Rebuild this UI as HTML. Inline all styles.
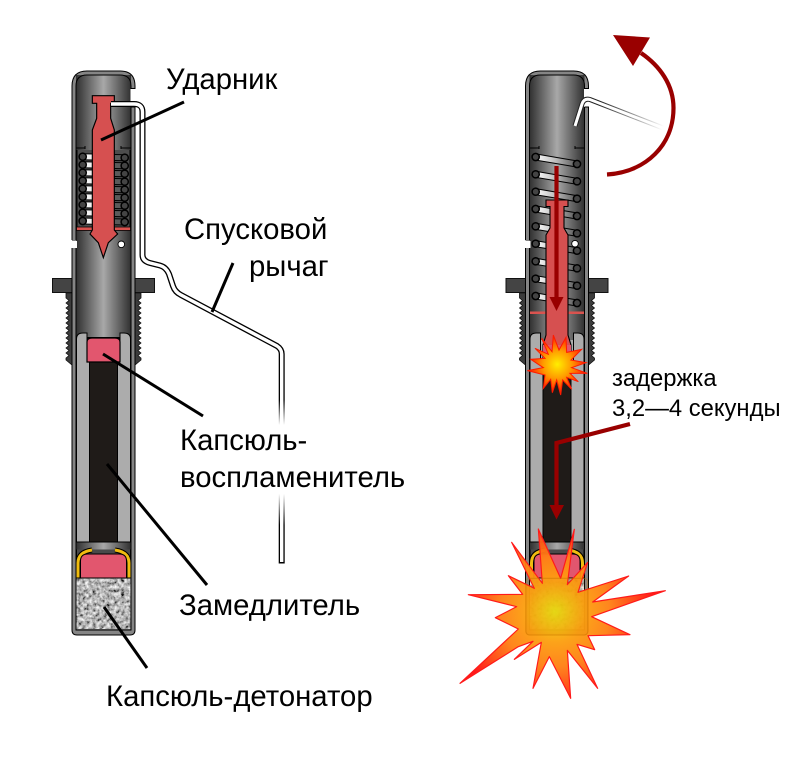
<!DOCTYPE html>
<html><head><meta charset="utf-8"><style>
html,body{margin:0;padding:0;background:#fff}
svg{display:block}
text{font-family:"Liberation Sans",sans-serif;fill:#000}
</style></head><body>
<svg width="800" height="769" viewBox="0 0 800 769" xmlns="http://www.w3.org/2000/svg">
<defs>
<linearGradient id="tg" gradientUnits="userSpaceOnUse" x1="76" x2="131" y1="0" y2="0">
<stop offset="0" stop-color="#303030"/><stop offset=".5" stop-color="#a8a8a8"/><stop offset="1" stop-color="#303030"/></linearGradient>
<linearGradient id="barL" gradientUnits="userSpaceOnUse" x1="82" x2="125" y1="0" y2="0">
<stop offset="0" stop-color="#fff"/><stop offset=".45" stop-color="#ddd"/><stop offset=".6" stop-color="#5a5a5a"/><stop offset="1" stop-color="#5a5a5a"/></linearGradient>
<linearGradient id="lev" gradientUnits="userSpaceOnUse" x1="0" x2="0" y1="400" y2="525">
<stop offset="0" stop-color="#000"/><stop offset=".2" stop-color="#fff"/><stop offset=".75" stop-color="#fff"/><stop offset="1" stop-color="#000"/></linearGradient>
<linearGradient id="lev2" gradientUnits="userSpaceOnUse" x1="600" y1="101" x2="663" y2="128">
<stop offset="0" stop-color="#222"/><stop offset="1" stop-color="#222" stop-opacity="0"/></linearGradient>
<radialGradient id="boom" gradientUnits="userSpaceOnUse" cx="315" cy="335" r="300">
<stop offset="0" stop-color="#e8e010"/><stop offset=".3" stop-color="#fca010"/><stop offset=".55" stop-color="#ff8015"/><stop offset="1" stop-color="#ff1010"/></radialGradient>
<radialGradient id="boom2" gradientUnits="userSpaceOnUse" cx="142" cy="133" r="85">
<stop offset="0" stop-color="#ffee00"/><stop offset=".5" stop-color="#ff9a00"/><stop offset="1" stop-color="#ff2000"/></radialGradient>
<filter id="gran" x="0" y="0" width="100%" height="100%">
<feTurbulence type="fractalNoise" baseFrequency=".28" numOctaves="3" seed="4"/>
<feColorMatrix type="matrix" values="1.5 0 0 0 -.28  1.5 0 0 0 -.28  1.5 0 0 0 -.28  0 0 0 0 1"/>
</filter>
<g id="tube">
 <path d="M72,293 H66 V298 l3,2.500 -3,2.500 3,2.500 -3,2.500 3,2.500 -3,2.500 3,2.500 -3,2.500 3,2.500 -3,2.500 3,2.500 -3,2.500 3,2.500 -3,2.500 3,2.500 -3,2.500 3,2.500 -3,2.500 3,2.500 -3,2.500 3,2.500 -3,2.500 3,2.500 -3,2.500 V360 L72,365 Z M135,293 H141 V298 l-3,2.500 3,2.500 -3,2.500 3,2.500 -3,2.500 3,2.500 -3,2.500 3,2.500 -3,2.500 3,2.500 -3,2.500 3,2.500 -3,2.500 3,2.500 -3,2.500 3,2.500 -3,2.500 3,2.500 -3,2.500 3,2.500 -3,2.500 3,2.500 -3,2.500 3,2.500 V360 L135,365 Z" fill="#3c3c3c" stroke="#111" stroke-width=".8"/>
 <rect x="52.500" y="278.500" width="102" height="14" fill="#444" stroke="#111"/>
 <path d="M72,240 V86 Q72,71 87,71 H120 Q135,71 135,86 V630 Q135,635 130,635 H77 Q72,635 72,630 V248" fill="#858585" stroke="#000" stroke-width="1"/>
 <rect x="76" y="75" width="55" height="262" fill="url(#tg)"/>
 <path d="M76,240 V86 Q76,75 87,75 H120 Q131,75 131,86 V630 H76 V248" fill="none" stroke="#000" stroke-width="1"/>
 <rect x="70" y="241" width="7" height="7" fill="#fff"/>
 <rect x="130.500" y="89" width="6" height="18" fill="#fff"/>
 <path d="M131,88.500 H135.500 M131,107 H135.500" stroke="#000" stroke-width="1"/>
 <path d="M76.500,542 V339 Q76.500,333 83,333 H124 Q130.500,333 130.500,339 V542 Z" fill="#acacac" stroke="#000" stroke-width="1"/>
 <rect x="87" y="332" width="33" height="8" fill="url(#tg)"/>
 <path d="M83,333 H87 V362 M120,362 V333 H124" fill="none" stroke="#000" stroke-width="1"/>
 <rect x="89.500" y="362" width="28" height="180" fill="#1f1b18" stroke="#000"/>
 <rect x="76.500" y="542" width="54" height="37" fill="#4a4a4a" stroke="#000" stroke-width="1"/>
 <rect x="76.500" y="542.500" width="54" height="7" fill="url(#tg)"/>
 <path d="M78,579 V563 Q78,552 92,550 M129,579 V563 Q129,552 115,550" fill="none" stroke="#000" stroke-width="5"/>
 <path d="M78,579 V563 Q78,552 92,550 M129,579 V563 Q129,552 115,550" fill="none" stroke="#f0bc10" stroke-width="3"/>
 <path d="M80.500,578 V561 Q80.500,554 88,554 H119 Q126.500,554 126.500,561 V578 Z" fill="#e2566e" stroke="#000" stroke-width="1"/>
 <rect x="76.500" y="578" width="54" height="51" filter="url(#gran)"/>
 <path d="M76.500,578 H130.500 M76,630 H131" stroke="#000" stroke-width="1"/>
</g>
<g id="cL">
 <line x1="82.700" y1="0" x2="124.700" y2="1" stroke="#000" stroke-width="7"/>
 <line x1="82.700" y1="0" x2="124.700" y2="1" stroke="url(#barL)" stroke-width="5"/>
 <circle cx="82.700" cy="0" r="3.600" fill="#444" stroke="#000" stroke-width="1.500"/>
 <circle cx="124.700" cy="1" r="3.600" fill="#444" stroke="#000" stroke-width="1.500"/>
</g>
<linearGradient id="barR" gradientUnits="userSpaceOnUse" x1="535" x2="577" y1="0" y2="0">
<stop offset="0" stop-color="#fff"/><stop offset=".5" stop-color="#bbb"/><stop offset="1" stop-color="#555"/></linearGradient>
<g id="cR">
 <line x1="535.700" y1="0" x2="577" y2="7" stroke="#000" stroke-width="7"/>
 <line x1="535.700" y1="0" x2="577" y2="7" stroke="url(#barR)" stroke-width="5"/>
 <circle cx="535.700" cy="0" r="3.600" fill="#444" stroke="#000" stroke-width="1.500"/>
 <circle cx="577" cy="7" r="3.600" fill="#444" stroke="#000" stroke-width="1.500"/>
</g>
</defs>

<!-- LEFT -->
<use href="#tube"/>
<rect x="76.500" y="150" width="54" height="78" fill="#4d4d4d"/>
<path d="M76,148 H85 M121,148 H131 M77,150 V228 M130,150 V228" stroke="#000" stroke-width="1" fill="none"/>
<path d="M85,146 V149 M121,146 V149" stroke="#000"/>
<use href="#cL" y="156.700"/><use href="#cL" y="164.700"/><use href="#cL" y="172.700"/><use href="#cL" y="180.700"/><use href="#cL" y="188.700"/><use href="#cL" y="196.700"/><use href="#cL" y="204.700"/><use href="#cL" y="212.700"/><use href="#cL" y="221"/>
<rect x="76.500" y="227" width="54" height="3.500" fill="#d9534f" stroke="#000" stroke-width=".8"/>
<g transform="translate(40 60) scale(.33333)">
<path d="M157,107 H223 V130 H212 V175 L223,210 V510 L233,522 L205,548 L190,593 L175,548 L150,522 L157,510 V210 L170,175 V130 H157 Z" fill="#d65050" stroke="#000" stroke-width="3.500"/>
</g>
<circle cx="121.300" cy="244.300" r="3.300" fill="#fff" stroke="#000" stroke-width=".9"/>
<rect x="87" y="337" width="33" height="25" fill="#000"/>
<path d="M87,362 V342 Q87,338 92,338 H115 Q120,338 120,342 V362 Z" fill="#e2566e" stroke="#000" stroke-width="1.200"/>

<!-- lever -->
<path d="M111,104 H134 Q142.500,104 142.500,112 V255 Q142.500,261 150,263 L160,265.500 Q166,267 169,274 L173,286 Q175,292 181,295 L277,346 Q281.700,349 281.700,354 V563.500" fill="none" stroke="url(#lev)" stroke-width="6"/>
<path d="M111,104 H134 Q142.500,104 142.500,112 V255 Q142.500,261 150,263 L160,265.500 Q166,267 169,274 L173,286 Q175,292 181,295 L277,346 Q281.700,349 281.700,354 V562" fill="none" stroke="#fff" stroke-width="3.400"/>

<!-- leader lines -->
<g stroke="#000" stroke-width="3" fill="none">
<path d="M184,102 L101,140"/>
<path d="M233,263 L212,312"/>
<path d="M103,354 L203,416"/>
<path d="M107,464 L207,585"/>
<path d="M104,607 L147,668"/>
</g>

<!-- RIGHT -->
<use href="#tube" x="453.500"/>
<path d="M529.500,148 H539 M575,148 H584.500" stroke="#000" stroke-width="1"/>
<path d="M539,146 V149 M575,146 V149" stroke="#000"/>
<use href="#cR" y="157"/><use href="#cR" y="174.300"/><use href="#cR" y="191.700"/><use href="#cR" y="209"/><use href="#cR" y="226.300"/><use href="#cR" y="243.700"/><use href="#cR" y="261.300"/><use href="#cR" y="278.700"/><use href="#cR" y="296"/>
<rect x="530" y="311.500" width="54" height="2.500" fill="#d9534f"/>
<circle cx="575" cy="243.700" r="3.300" fill="#fff" stroke="#000" stroke-width=".9"/>
<path d="M546,200 H568 V206.500 H564 V228 L568,235 V335 L571,345 L571,370 H543 L543,345 L546,335 V235 L550,228 V206.500 H546 Z" fill="#d65050" stroke="#000" stroke-width="1.100"/>
<rect x="543" y="345" width="28" height="18" fill="#e2566e"/>
<path d="M556.500,166 V298" stroke="#990000" stroke-width="4.200"/>
<path d="M549.500,297 H563.500 L556.500,311 Z" fill="#990000"/>

<!-- right lever -->
<path d="M575,126 L582,104 Q584,98 590,99.500 L663,128" fill="none" stroke="url(#lev2)" stroke-width="5"/>
<path d="M575,126 L582,104 Q584,98 590,99.500 L663,128" fill="none" stroke="#fff" stroke-width="3"/>

<!-- curved arrow -->
<path d="M607,174.500 C646,172 673.500,145 673.500,108 C673.500,85 660,66 641,53" fill="none" stroke="#990000" stroke-width="4.200"/>
<path d="M613,35 L650,37.500 L633,66 Z" fill="#990000"/>

<!-- delay arrow -->
<path d="M630,424 L556.500,443 V506" fill="none" stroke="#990000" stroke-width="4.200"/>
<path d="M549.500,505 H564 L556.500,519.500 Z" fill="#990000"/>

<!-- small star -->
<g transform="translate(510 320) scale(.33333)">
<path d="M95,55 126,95 130,45 147,90 168,52 170,97 215,88 183,120 228,128 185,143 232,160 180,160 205,185 170,172 185,208 158,180 152,225 140,180 127,218 122,178 100,205 105,165 52,152 100,143 62,118 105,115 75,85 115,103 Z" fill="url(#boom2)" stroke="#ff1a00" stroke-width="3"/>
</g>

<!-- big explosion -->
<g transform="translate(450 500) scale(.33333)">
<path d="M55,284 218,283 175,227 253,265 185,127 277,250 265,87 332,235 373,88 352,254 413,187 384,277 536,228 428,306 646,272 425,350 540,404 414,407 434,449 381,433 443,565 352,451 362,595 298,470 249,565 274,427 193,478 249,424 205,440 30,550 205,387 136,353 200,320 Z" fill="url(#boom)" fill-opacity=".96" stroke="#ff1a1a" stroke-width="3.500" stroke-linejoin="round"/>
<rect x="228" y="235" width="185" height="170" rx="10" fill="#d88000" fill-opacity=".08" stroke="#c87000" stroke-opacity=".45" stroke-width="3"/>
</g>

<!-- labels -->
<g font-size="29.300">
<text x="166" y="89">Ударник</text>
<text x="184" y="239">Спусковой</text>
<text x="249" y="276">рычаг</text>
<text x="180" y="450">Капсюль-</text>
<text x="180" y="487">воспламенитель</text>
<text x="179" y="615">Замедлитель</text>
<text x="106" y="706">Капсюль-детонатор</text>
</g>
<g font-size="23.800">
<text x="612" y="386">задержка</text>
<text x="612" y="416">3,2—4 секунды</text>
</g>
</svg>
</body></html>
